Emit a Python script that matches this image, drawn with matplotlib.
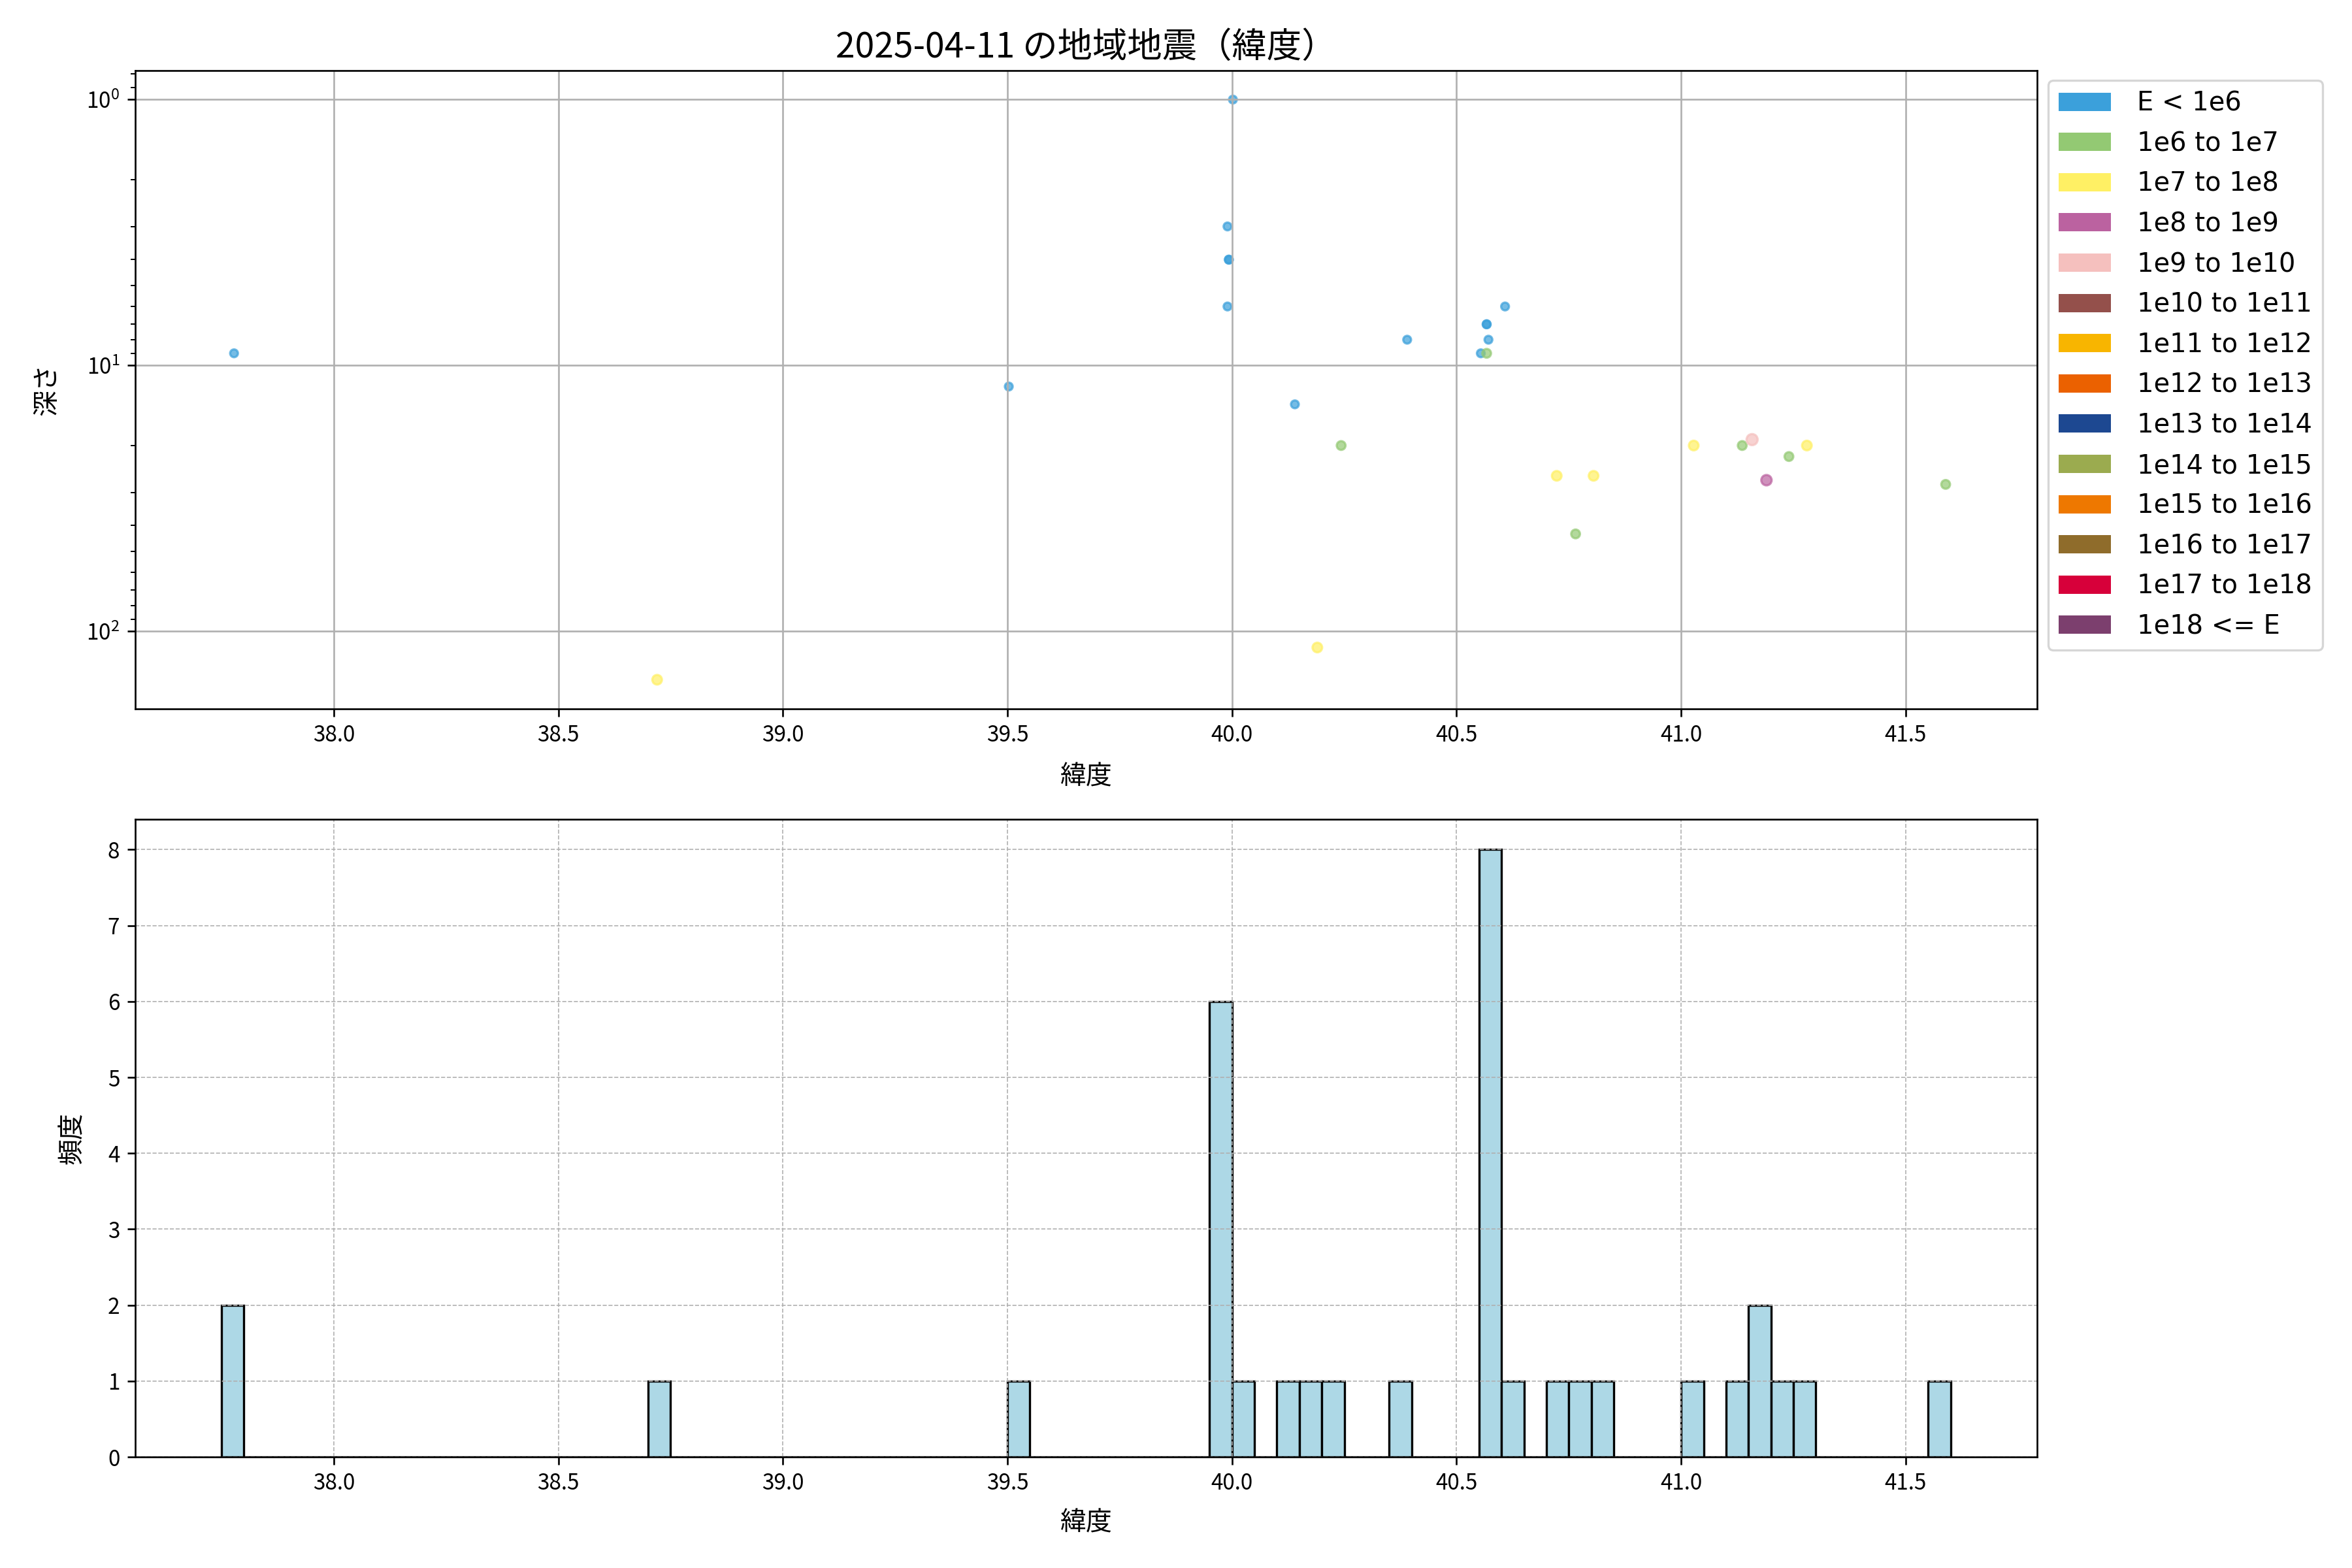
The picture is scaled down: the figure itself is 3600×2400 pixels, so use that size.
import numpy as np
import matplotlib
matplotlib.use("Agg")
import matplotlib.pyplot as plt
from matplotlib.patches import Patch

plt.rcParams['font.family'] = ['Noto Sans CJK JP', 'DejaVu Sans']

# ---- data ----
title = "2025-04-11 の地域地震（緯度）"
latitudes = [37.778, 37.778, 38.72, 39.503, 40.002, 39.99, 39.993, 39.993, 39.99, 39.99,
             39.99, 40.14, 40.19, 40.243, 40.39, 40.554, 40.567, 40.567, 40.567, 40.571,
             40.56, 40.56, 40.56, 40.608, 40.723, 40.765, 40.805, 41.028, 41.136, 41.158,
             41.19, 41.24, 41.28, 41.589]
depths = [9, 0, 152, 12, 1, 3, 4, 4, 6, 0,
          0, 14, 115, 20, 8, 9, 9, 7, 7, 8,
          0, 0, 0, 6, 26, 43, 26, 20, 20, 19,
          27, 22, 20, 28]
energy_class = [0, 0, 2, 0, 0, 0, 0, 0, 0, 0,
                0, 0, 2, 1, 0, 0, 1, 0, 0, 0,
                0, 0, 0, 0, 2, 1, 2, 2, 1, 4,
                3, 1, 2, 1]
class_labels = ["E < 1e6", "1e6 to 1e7", "1e7 to 1e8", "1e8 to 1e9", "1e9 to 1e10",
                "1e10 to 1e11", "1e11 to 1e12", "1e12 to 1e13", "1e13 to 1e14",
                "1e14 to 1e15", "1e15 to 1e16", "1e16 to 1e17", "1e17 to 1e18", "1e18 <= E"]
class_colors = ["#3BA0DB", "#93C973", "#FFF064", "#BB62A0", "#F5C0BE",
                "#94504B", "#F8B500", "#EB6100", "#1D4891", "#9BAB4F",
                "#EE7800", "#8F6C2B", "#D7003A", "#7C3F6E"]
bin_width = 0.05

lat = np.array(latitudes)
dep = np.array(depths, dtype=float)
ecl = np.array(energy_class)

fig = plt.figure(figsize=(15, 10), dpi=240)
ax1 = fig.add_axes([0.0574, 0.548, 0.8087, 0.407])
ax2 = fig.add_axes([0.0574, 0.0708, 0.8087, 0.4067])

# ---- histogram ----
lo = np.floor(lat.min() / bin_width) * bin_width
edges = np.round(np.arange(lo, lat.max() + bin_width, bin_width), 2)
ax2.hist(lat, bins=edges, color='lightblue', edgecolor='black', linewidth=1.0)
ax2.grid(True, linestyle='--', linewidth=0.5)
ax2.set_xlabel("緯度", fontsize=12, labelpad=7)
ax2.set_ylabel("頻度", fontsize=12, labelpad=10)
ax2.tick_params(labelsize=10)

# ---- scatter ----
m = dep > 0
cols = [class_colors[k] for k in ecl[m]]
sizes = 13 + 3.3 * ecl[m]
ax1.scatter(lat[m], dep[m], c=cols, s=sizes, alpha=0.7)
ax1.set_yscale('log')
ax1.invert_yaxis()
ax1.set_xlim(ax2.get_xlim())
ax1.grid(True)
ax1.set_xlabel("緯度", fontsize=12, labelpad=8)
ax1.set_ylabel("深さ", fontsize=12, labelpad=12)
ax1.set_title(title, fontsize=16)
ax1.tick_params(labelsize=10)

handles = [Patch(facecolor=c, label=l) for c, l in zip(class_colors, class_labels)]
ax1.legend(handles=handles, loc='upper left', bbox_to_anchor=(1.006, 0.985),
           prop={'family': 'DejaVu Sans', 'size': 12}, borderaxespad=0.0,
           handletextpad=1.0, labelspacing=0.54)

fig.savefig("out.png", dpi=240)
